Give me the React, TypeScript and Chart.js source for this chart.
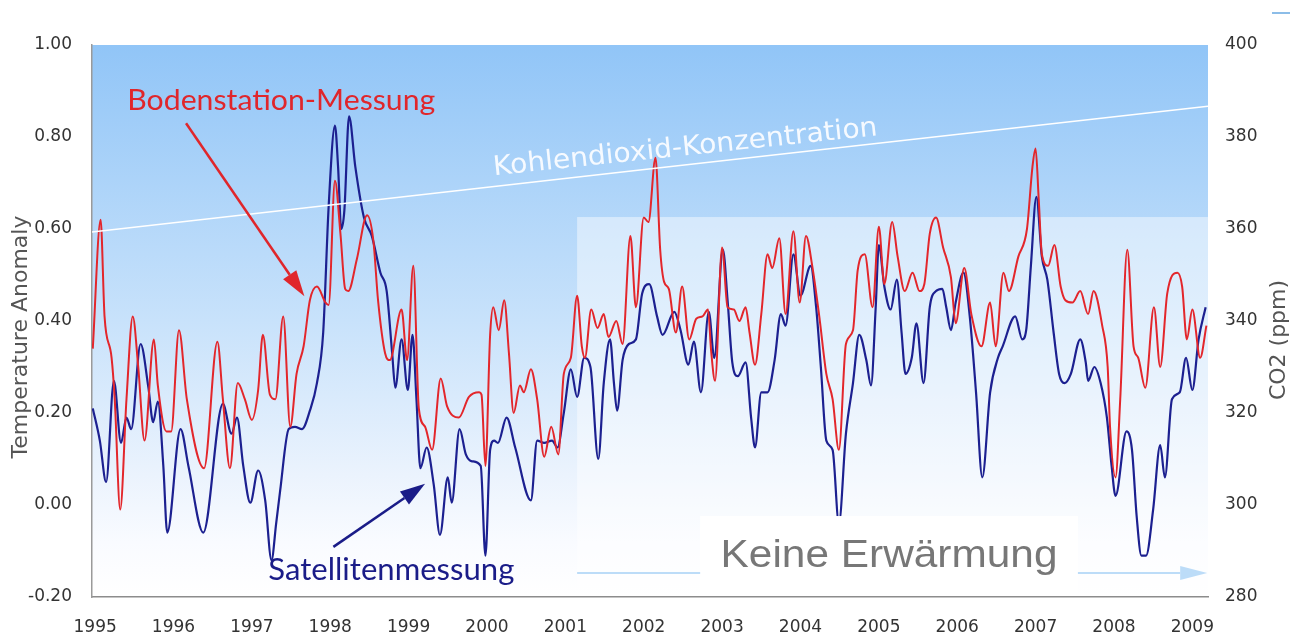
import React, { useEffect, useRef } from "react";
import { Chart, registerables } from "chart.js";

Chart.register(...registerables);

// ---------- axes ----------
const yearTicks = [1995, 1996, 1997, 1998, 1999, 2000, 2001, 2002, 2003, 2004, 2005, 2006, 2007, 2008, 2009];
const anomalyTicks = [-0.2, 0, 0.2, 0.4, 0.6, 0.8, 1.0];
const co2Ticks = [280, 300, 320, 340, 360, 380, 400];
const yearRange = [1994.96, 2009.2];

// ---------- Bodenstation-Messung (red) ----------
const groundYear = [
  1994.97, 1995.07, 1995.12, 1995.21, 1995.25, 1995.32, 1995.40, 1995.48, 1995.55, 1995.63,
  1995.75, 1995.80, 1995.91, 1995.97, 1996.07, 1996.17, 1996.39, 1996.56, 1996.63, 1996.72,
  1996.82, 1996.91, 1997.00, 1997.08, 1997.14, 1997.23, 1997.30, 1997.40, 1997.49, 1997.57,
  1997.66, 1997.74, 1997.83, 1997.94, 1997.98, 1998.06, 1998.13, 1998.19, 1998.23, 1998.34,
  1998.47, 1998.55, 1998.61, 1998.70, 1998.76, 1998.91, 1998.98, 1999.06, 1999.13, 1999.21,
  1999.30, 1999.41, 1999.49, 1999.64, 1999.77, 1999.90, 1999.93, 1999.98, 2000.04, 2000.08,
  2000.15, 2000.22, 2000.28, 2000.34, 2000.42, 2000.47, 2000.56, 2000.64, 2000.73, 2000.82,
  2000.91, 2000.98, 2001.07, 2001.15, 2001.21, 2001.25, 2001.33, 2001.41, 2001.49, 2001.55,
  2001.65, 2001.73, 2001.83, 2001.90, 2002.00, 2002.06, 2002.15, 2002.21, 2002.26, 2002.32,
  2002.41, 2002.49, 2002.58, 2002.67, 2002.75, 2002.82, 2002.86, 2002.91, 2003.00, 2003.07,
  2003.15, 2003.22, 2003.30, 2003.35, 2003.42, 2003.50, 2003.58, 2003.64, 2003.73, 2003.81,
  2003.91, 2003.99, 2004.07, 2004.15, 2004.24, 2004.33, 2004.41, 2004.49, 2004.58, 2004.67,
  2004.73, 2004.82, 2004.92, 2005.00, 2005.07, 2005.17, 2005.24, 2005.33, 2005.43, 2005.52,
  2005.58, 2005.65, 2005.73, 2005.82, 2005.92, 2005.98, 2006.09, 2006.18, 2006.31, 2006.42,
  2006.49, 2006.59, 2006.66, 2006.78, 2006.89, 2006.96, 2007.00, 2007.04, 2007.08, 2007.16,
  2007.24, 2007.32, 2007.38, 2007.47, 2007.57, 2007.67, 2007.74, 2007.85, 2007.92, 2007.95,
  2008.02, 2008.08, 2008.17, 2008.25, 2008.31, 2008.40, 2008.51, 2008.59, 2008.68, 2008.81,
  2008.87, 2008.93, 2009.00, 2009.10, 2009.18,
];
const groundAnomaly = [
  0.34, 0.62, 0.41, 0.32, 0.23, -0.01, 0.23, 0.41, 0.30, 0.14,
  0.36, 0.26, 0.16, 0.16, 0.38, 0.23, 0.08, 0.355, 0.23, 0.08,
  0.265, 0.23, 0.185, 0.25, 0.37, 0.24, 0.23, 0.41, 0.17, 0.285,
  0.345, 0.445, 0.475, 0.44, 0.435, 0.705, 0.59, 0.47, 0.465, 0.535,
  0.63, 0.575, 0.445, 0.33, 0.315, 0.425, 0.315, 0.52, 0.21, 0.17,
  0.12, 0.275, 0.215, 0.19, 0.235, 0.245, 0.24, 0.085, 0.37, 0.43,
  0.38, 0.445, 0.33, 0.20, 0.26, 0.245, 0.295, 0.23, 0.105, 0.17,
  0.11, 0.285, 0.32, 0.455, 0.345, 0.32, 0.425, 0.385, 0.415, 0.365,
  0.40, 0.35, 0.585, 0.43, 0.625, 0.615, 0.755, 0.555, 0.485, 0.47,
  0.375, 0.475, 0.36, 0.405, 0.41, 0.425, 0.335, 0.27, 0.56, 0.43,
  0.425, 0.40, 0.43, 0.375, 0.305, 0.415, 0.545, 0.515, 0.58, 0.415,
  0.595, 0.44, 0.585, 0.52, 0.41, 0.285, 0.23, 0.12, 0.35, 0.38,
  0.51, 0.545, 0.43, 0.605, 0.48, 0.615, 0.54, 0.465, 0.505, 0.465,
  0.48, 0.59, 0.625, 0.56, 0.495, 0.395, 0.515, 0.415, 0.345, 0.44,
  0.345, 0.505, 0.465, 0.54, 0.60, 0.735, 0.775, 0.665, 0.545, 0.52,
  0.565, 0.475, 0.445, 0.44, 0.465, 0.415, 0.465, 0.39, 0.30, 0.17,
  0.06, 0.23, 0.555, 0.345, 0.32, 0.255, 0.43, 0.30, 0.46, 0.505,
  0.475, 0.36, 0.425, 0.32, 0.39,
];

// ---------- Satellitenmessung (blue) ----------
const satelliteYear = [
  1994.97, 1995.06, 1995.14, 1995.24, 1995.33, 1995.40, 1995.46, 1995.58, 1995.68, 1995.74,
  1995.80, 1995.87, 1995.92, 1996.09, 1996.19, 1996.38, 1996.63, 1996.74, 1996.81, 1996.89,
  1996.98, 1997.08, 1997.17, 1997.25, 1997.31, 1997.36, 1997.47, 1997.55, 1997.64, 1997.74,
  1997.83, 1997.91, 1997.98, 1998.06, 1998.10, 1998.14, 1998.18, 1998.24, 1998.32, 1998.43,
  1998.53, 1998.64, 1998.72, 1998.79, 1998.83, 1998.91, 1998.99, 1999.05, 1999.10, 1999.15,
  1999.23, 1999.32, 1999.40, 1999.50, 1999.55, 1999.65, 1999.73, 1999.81, 1999.92, 1999.98,
  2000.04, 2000.09, 2000.14, 2000.25, 2000.36, 2000.56, 2000.64, 2000.73, 2000.83, 2000.90,
  2000.98, 2001.07, 2001.15, 2001.24, 2001.32, 2001.42, 2001.49, 2001.57, 2001.62, 2001.66,
  2001.73, 2001.81, 2001.90, 2001.98, 2002.07, 2002.17, 2002.24, 2002.39, 2002.47, 2002.57,
  2002.64, 2002.73, 2002.83, 2002.90, 2003.01, 2003.07, 2003.13, 2003.20, 2003.30, 2003.37,
  2003.42, 2003.50, 2003.58, 2003.67, 2003.75, 2003.81, 2003.91, 2004.00, 2004.13, 2004.20,
  2004.26, 2004.33, 2004.41, 2004.49, 2004.58, 2004.67, 2004.75, 2004.84, 2004.90, 2004.96,
  2005.00, 2005.07, 2005.15, 2005.23, 2005.29, 2005.34, 2005.42, 2005.48, 2005.57, 2005.65,
  2005.73, 2005.81, 2005.86, 2005.92, 2005.98, 2006.08, 2006.16, 2006.24, 2006.32, 2006.42,
  2006.52, 2006.58, 2006.74, 2006.83, 2006.88, 2006.94, 2007.01, 2007.08, 2007.15, 2007.23,
  2007.30, 2007.37, 2007.45, 2007.57, 2007.64, 2007.67, 2007.75, 2007.83, 2007.91, 2007.97,
  2008.02, 2008.16, 2008.23, 2008.29, 2008.35, 2008.41, 2008.50, 2008.59, 2008.65, 2008.74,
  2008.84, 2008.92, 2009.00, 2009.08, 2009.17,
];
const satelliteAnomaly = [
  0.21, 0.14, 0.05, 0.27, 0.135, 0.19, 0.165, 0.35, 0.255, 0.18,
  0.225, 0.085, -0.06, 0.165, 0.085, -0.06, 0.22, 0.155, 0.19, 0.085,
  0.005, 0.075, 0.01, -0.12, -0.04, 0.03, 0.165, 0.17, 0.165, 0.205,
  0.265, 0.375, 0.65, 0.825, 0.735, 0.60, 0.64, 0.845, 0.735, 0.625,
  0.585, 0.505, 0.465, 0.33, 0.255, 0.36, 0.25, 0.37, 0.23, 0.08,
  0.125, 0.045, -0.065, 0.06, 0.005, 0.165, 0.11, 0.095, 0.085, -0.11,
  0.12, 0.14, 0.135, 0.19, 0.125, 0.01, 0.14, 0.135, 0.14, 0.125,
  0.20, 0.295, 0.235, 0.32, 0.30, 0.10, 0.265, 0.36, 0.265, 0.205,
  0.315, 0.35, 0.36, 0.46, 0.48, 0.41, 0.37, 0.42, 0.38, 0.305,
  0.355, 0.245, 0.42, 0.32, 0.555, 0.445, 0.31, 0.28, 0.31, 0.19,
  0.125, 0.245, 0.245, 0.315, 0.415, 0.39, 0.545, 0.455, 0.52, 0.43,
  0.30, 0.14, 0.12, -0.04, 0.155, 0.265, 0.37, 0.315, 0.26, 0.43,
  0.565, 0.475, 0.425, 0.49, 0.375, 0.285, 0.32, 0.395, 0.265, 0.43,
  0.465, 0.47, 0.43, 0.38, 0.44, 0.505, 0.41, 0.245, 0.06, 0.245,
  0.32, 0.345, 0.41, 0.36, 0.38, 0.52, 0.67, 0.54, 0.49, 0.375,
  0.285, 0.265, 0.285, 0.36, 0.31, 0.27, 0.30, 0.265, 0.19, 0.085,
  0.02, 0.16, 0.12, -0.025, -0.11, -0.11, -0.01, 0.13, 0.06, 0.23,
  0.245, 0.32, 0.25, 0.36, 0.43,
];

// ---------- Kohlendioxid-Konzentration (white, right axis) ----------
const co2Year = [1994.96, 2002.15, 2009.2];
const co2Ppm = [359.35, 373.2, 386.7];

// ---------- annotation anchors (data coordinates) ----------
const ANN = {
  groundText: { t: 1995.41, v: 0.859, width: 308 },
  groundArrow: { t1: 1996.16, v1: 0.83, t2: 1997.67, v2: 0.454 },
  satText: { t: 1997.21, v: -0.163, width: 246 },
  satArrow: { t1: 1998.04, v1: -0.091, t2: 1999.21, v2: 0.046 },
  co2Text: { t1: 2000.09, p1: 371.7, t2: 2004.99, p2: 380.4 },
  highlight: { t: 2001.15, v: 0.626 },
  box: { t1: 2002.72, t2: 2007.54, v: -0.024 },
  noWarmText: { t: 2002.98, v: -0.135, width: 337 },
  bottomArrow: { t1: 2001.15, t2: 2009.19, v: -0.148 },
};

function stretchedText(ctx: CanvasRenderingContext2D, text: string, x: number, y: number, font: string, color: string, width: number, angle = 0) {
  ctx.save();
  ctx.font = font;
  ctx.fillStyle = color;
  ctx.textAlign = "left";
  ctx.textBaseline = "alphabetic";
  ctx.translate(x, y);
  if (angle) ctx.rotate(angle);
  const m = ctx.measureText(text).width;
  ctx.scale(width / m, 1);
  ctx.fillText(text, 0, 0);
  ctx.restore();
}

function arrow(ctx: CanvasRenderingContext2D, x1: number, y1: number, x2: number, y2: number, color: string, lw: number, headLen: number, headHalf: number) {
  const a = Math.atan2(y2 - y1, x2 - x1);
  const bx = x2 - headLen * Math.cos(a);
  const by = y2 - headLen * Math.sin(a);
  ctx.save();
  ctx.strokeStyle = color;
  ctx.fillStyle = color;
  ctx.lineWidth = lw;
  ctx.lineCap = "butt";
  ctx.beginPath();
  ctx.moveTo(x1, y1);
  ctx.lineTo(bx, by);
  ctx.stroke();
  ctx.beginPath();
  ctx.moveTo(x2, y2);
  ctx.lineTo(bx + headHalf * Math.sin(a), by - headHalf * Math.cos(a));
  ctx.lineTo(bx - headHalf * Math.sin(a), by + headHalf * Math.cos(a));
  ctx.closePath();
  ctx.fill();
  ctx.restore();
}

const decorPlugin = {
  id: "decor",
  beforeDraw(chart: any) {
    const { ctx, chartArea: a, scales } = chart;
    const X = (t: number) => scales.x.getPixelForValue(t);
    const Y = (v: number) => scales.y.getPixelForValue(v);
    ctx.save();
    const g = ctx.createLinearGradient(0, a.top, 0, a.bottom);
    g.addColorStop(0, "#91c5f7");
    g.addColorStop(0.5, "#c8e2fb");
    g.addColorStop(0.78, "#ebf3fd");
    g.addColorStop(0.9, "#f9fbff");
    g.addColorStop(1, "#ffffff");
    ctx.fillStyle = g;
    ctx.fillRect(a.left, a.top, a.right - a.left, a.bottom - a.top);
    const hx = X(ANN.highlight.t);
    const hy = Y(ANN.highlight.v);
    ctx.fillStyle = "rgba(255,255,255,0.45)";
    ctx.fillRect(hx, hy, a.right - hx, a.bottom - hy);
    // small mark top right
    ctx.strokeStyle = "#8cbde8";
    ctx.lineWidth = 2;
    ctx.beginPath();
    ctx.moveTo(1272, 13);
    ctx.lineTo(1290, 13);
    ctx.stroke();
    ctx.restore();
  },
  afterDatasetsDraw(chart: any) {
    const { ctx, chartArea: a, scales } = chart;
    const X = (t: number) => scales.x.getPixelForValue(t);
    const Y = (v: number) => scales.y.getPixelForValue(v);
    const Y2 = (p: number) => scales.y2.getPixelForValue(p);

    // CO2 label
    const c = ANN.co2Text;
    const cx1 = X(c.t1), cy1 = Y2(c.p1), cx2 = X(c.t2), cy2 = Y2(c.p2);
    stretchedText(ctx, "Kohlendioxid-Konzentration", cx1, cy1, "27px 'DejaVu Sans'", "#f6faff",
      Math.hypot(cx2 - cx1, cy2 - cy1), Math.atan2(cy2 - cy1, cx2 - cx1));

    // ground label + arrow
    stretchedText(ctx, "Bodenstation-Messung", X(ANN.groundText.t), Y(ANN.groundText.v), "29px Lato", "#e0262b", ANN.groundText.width);
    const ga = ANN.groundArrow;
    arrow(ctx, X(ga.t1), Y(ga.v1), X(ga.t2), Y(ga.v2), "#e0262b", 2.5, 26, 8);

    // satellite label + arrow
    stretchedText(ctx, "Satellitenmessung", X(ANN.satText.t), Y(ANN.satText.v), "30px Lato", "#1a1c88", ANN.satText.width);
    const sa = ANN.satArrow;
    arrow(ctx, X(sa.t1), Y(sa.v1), X(sa.t2), Y(sa.v2), "#1a1c88", 2.5, 25, 8);

    // bottom light arrow
    const ba = ANN.bottomArrow;
    arrow(ctx, X(ba.t1), Y(ba.v), X(ba.t2), Y(ba.v), "#bcdcf8", 2, 27, 7);

    // white box with text
    const bx1 = X(ANN.box.t1), bx2 = X(ANN.box.t2), by = Y(ANN.box.v);
    ctx.save();
    ctx.fillStyle = "#ffffff";
    ctx.fillRect(bx1, by, bx2 - bx1, a.bottom - 4 - by);
    ctx.restore();
    stretchedText(ctx, "Keine Erwärmung", X(ANN.noWarmText.t), Y(ANN.noWarmText.v), "39px 'Liberation Sans'", "#777777", ANN.noWarmText.width);
  },
  afterDraw(chart: any) {
    const { ctx } = chart;
    ctx.save();
    ctx.font = "22px 'DejaVu Sans'";
    ctx.fillStyle = "#555555";
    ctx.textAlign = "center";
    ctx.textBaseline = "alphabetic";
    ctx.translate(27, 337);
    ctx.rotate(-Math.PI / 2);
    ctx.fillText("Temperature Anomaly", 0, 0);
    ctx.restore();
    ctx.save();
    ctx.font = "22px 'DejaVu Sans'";
    ctx.fillStyle = "#555555";
    ctx.textAlign = "center";
    ctx.textBaseline = "alphabetic";
    ctx.translate(1285, 340);
    ctx.rotate(-Math.PI / 2);
    ctx.fillText("CO2 (ppm)", 0, 0);
    ctx.restore();
  },
};

const tickFont = { family: "'DejaVu Sans'", size: 17 };

export default function App() {
  const ref = useRef<HTMLCanvasElement | null>(null);
  useEffect(() => {
    const canvas = ref.current;
    if (!canvas) return;
    const chart = new Chart(canvas, {
      type: "line",
      data: {
        datasets: [
          {
            label: "CO2",
            data: co2Year.map((t, i) => ({ x: t, y: co2Ppm[i] })),
            yAxisID: "y2",
            borderColor: "#ffffff",
            borderWidth: 1.5,
            pointRadius: 0,
            tension: 0,
            order: 0,
          },
          {
            label: "Bodenstation-Messung",
            data: groundYear.map((t, i) => ({ x: t, y: groundAnomaly[i] })),
            yAxisID: "y",
            borderColor: "#e3262b",
            borderWidth: 2,
            pointRadius: 0,
            cubicInterpolationMode: "monotone",
            order: 1,
          },
          {
            label: "Satellitenmessung",
            data: satelliteYear.map((t, i) => ({ x: t, y: satelliteAnomaly[i] })),
            yAxisID: "y",
            borderColor: "#1c2090",
            borderWidth: 2.2,
            pointRadius: 0,
            cubicInterpolationMode: "monotone",
            order: 2,
          },
        ],
      },
      options: {
        animation: false,
        responsive: true,
        maintainAspectRatio: false,
        layout: { padding: { top: 45, left: 0, right: 0, bottom: 0 } },
        plugins: { legend: { display: false }, tooltip: { enabled: false } },
        events: [],
        scales: {
          x: {
            type: "linear",
            min: yearRange[0],
            max: yearRange[1],
            grid: { display: false, drawTicks: false },
            border: { display: true, color: "#8c8c8c", width: 1.5 },
            afterBuildTicks: (s: any) => { s.ticks = yearTicks.map((v) => ({ value: v })); },
            afterFit: (s: any) => { s.height = 39; },
            ticks: {
              autoSkip: false,
              maxRotation: 0,
              padding: 20,
              color: "#333333",
              font: tickFont,
              callback: (v: any) => String(v),
            },
          },
          y: {
            type: "linear",
            position: "left",
            min: -0.2,
            max: 1.0,
            grid: { display: false, drawTicks: false },
            border: { display: true, color: "#9a9a9a", width: 1.5 },
            afterBuildTicks: (s: any) => { s.ticks = anomalyTicks.map((v) => ({ value: v })); },
            afterFit: (s: any) => { s.width = 92; },
            ticks: {
              padding: 20,
              color: "#333333",
              font: tickFont,
              callback: (v: any) => Number(v).toFixed(2),
            },
          },
          y2: {
            type: "linear",
            position: "right",
            min: 280,
            max: 400,
            grid: { display: false, drawTicks: false },
            border: { display: false },
            afterBuildTicks: (s: any) => { s.ticks = co2Ticks.map((v) => ({ value: v })); },
            afterFit: (s: any) => { s.width = 91; },
            ticks: {
              padding: 17,
              color: "#333333",
              font: tickFont,
              callback: (v: any) => String(v),
            },
          },
        },
      },
      plugins: [decorPlugin],
    } as any);
    return () => chart.destroy();
  }, []);
  return (
    <div style={{ position: "fixed", left: 0, top: 0, width: 1299, height: 636, background: "#ffffff" }}>
      <canvas ref={ref} />
    </div>
  );
}
